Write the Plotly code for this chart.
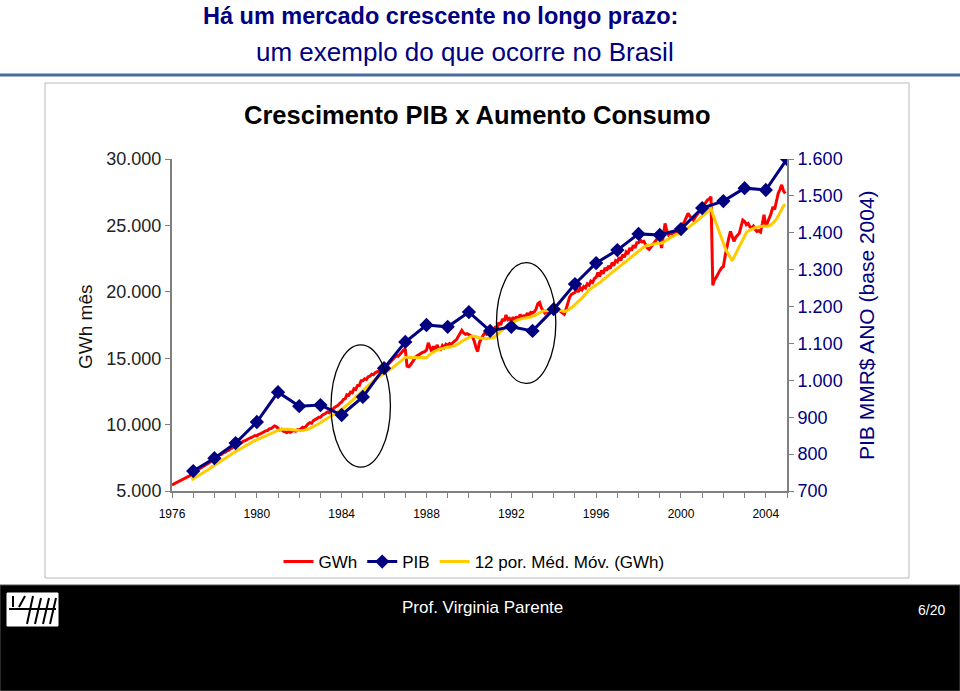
import plotly.graph_objects as go
import pandas as pd

# ---------------- data ----------------
start_year = 1976
end_year = 2005
tick_years = [1976, 1980, 1984, 1988, 1992, 1996, 2000, 2004]

# Monthly electricity consumption (GWh/month), Jan 1976 .. Dec 2004
gwh_monthly = [
    5450, 5520, 5560, 5660, 5700, 5790, 5830, 5940, 5980, 6090, 6150, 6300,        # 1976
    6380, 6450, 6560, 6600, 6720, 6760, 6900, 6950, 7060, 7120, 7250, 7400,        # 1977
    7480, 7560, 7600, 7720, 7760, 7870, 7900, 8020, 8060, 8170, 8230, 8380,        # 1978
    8420, 8480, 8580, 8600, 8720, 8760, 8820, 8920, 8950, 9030, 9100, 9180,        # 1979
    9150, 9270, 9300, 9380, 9450, 9530, 9550, 9680, 9700, 9820, 9900, 9850,        # 1980
    9700, 9600, 9650, 9500, 9450, 9400, 9480, 9420, 9500, 9560, 9500, 9620,        # 1981
    9600, 9720, 9800, 9750, 9950, 10050, 10150, 10100, 10300, 10350, 10450, 10550, # 1982
    10550, 10700, 10750, 10850, 10950, 10900, 11100, 11150, 11300, 11350, 11450, 11600,  # 1983
    11700, 11900, 11950, 12250, 12200, 12450, 12400, 12700, 12650, 12950, 12950, 13300,  # 1984
    13300, 13450, 13400, 13600, 13650, 13800, 13750, 13900, 13950, 14050, 14100, 14250,  # 1985
    14250, 14350, 14500, 14650, 14800, 14950, 15050, 15200, 15150, 15350, 15450, 15600,  # 1986
    15700, 14400, 14350, 14500, 14700, 14900, 15100, 15200, 15300, 15400, 15450, 15500,  # 1987
    15600, 16150, 15800, 15500, 15900, 15600, 16000, 15700, 15650, 15950, 15800, 16050,  # 1988
    15950, 16100, 16050, 16200, 16300, 16400, 16600, 16800, 17100, 16900, 16800, 16850,  # 1989
    16800, 16700, 16600, 16300, 15800, 15500, 16200, 16500, 16700, 16900, 16800, 16950,  # 1990
    16900, 17200, 16950, 17400, 17250, 17700, 17500, 17950, 17800, 18250, 17900, 18000,  # 1991
    17800, 18100, 17750, 18150, 17900, 18300, 17950, 18250, 18050, 18400, 18150, 18450,  # 1992
    18400, 18500, 18700, 19100, 19200, 18800, 18600, 18400, 18500, 18450, 18550, 18600,  # 1993
    18600, 18700, 18550, 18650, 18500, 18400, 18300, 18700, 19200, 19600, 19800, 19900,  # 1994
    19950, 20200, 20000, 20300, 20150, 20400, 20300, 20600, 20500, 20800, 20700, 21000,  # 1995
    21100, 21450, 21150, 21600, 21350, 21800, 21600, 21950, 21750, 22200, 21950, 22350,  # 1996
    22250, 22600, 22350, 22800, 22600, 23000, 22850, 23300, 23100, 23500, 23300, 23700,  # 1997
    23700, 23900, 23750, 23800, 23550, 23300, 23200, 23400, 23600, 23800, 23900, 24050,  # 1998
    24100, 23300, 24400, 25150, 24600, 24300, 24450, 24350, 24500, 24400, 24550, 24600,  # 1999
    24800, 25000, 25300, 25600, 25900, 25700, 25500, 25400, 25600, 25800, 26000, 26200,  # 2000
    26300, 26500, 26700, 26900, 27000, 27150, 20500, 20900, 21100, 21400, 21600, 21800,  # 2001
    21900, 22700, 23500, 24000, 24550, 24100, 23800, 24100, 24300, 24400, 24900, 25400,  # 2002
    25300, 25050, 25150, 24900, 24800, 24950, 24700, 24550, 24600, 24500, 25100, 25800,  # 2003
    24900, 25200, 25600, 25900, 26400, 26200, 26800, 27400, 27700, 28050, 27600, 27400,  # 2004
]

# Annual GDP (PIB, MMR$ base 2004), 1976 .. 2004
pib_years = list(range(1976, 2005))
pib_values = [754, 789, 830, 887, 968, 930, 933, 906, 955, 1033,
              1104, 1150, 1145, 1185, 1134, 1145, 1134, 1193, 1261, 1318,
              1353, 1397, 1394, 1410, 1467, 1486, 1521, 1516, 1600]

ma_window = 12

# ---------------- derived ----------------
month_x = [start_year + i / 12 for i in range(len(gwh_monthly))]
ma = pd.Series(gwh_monthly).rolling(ma_window).mean()
pib_x = [y + 1 for y in pib_years]   # plotted at the end of each year

# ---------------- geometry helpers (page pixels -> paper) ----------------
W, H = 960, 691
L, R, T, B = 172, 173, 159, 200
PW, PH = W - L - R, H - T - B


def px(x):
    return (x - L) / PW


def py(y):
    return (H - B - y) / PH


NAVY = "#000080"
RED = "#ff0000"
YEL = "#ffcc00"
AX = "#808080"
FONT = "Liberation Sans, Arial, sans-serif"

fig = go.Figure()
fig.add_trace(go.Scatter(x=month_x, y=gwh_monthly, mode="lines", name="GWh",
                         line=dict(color=RED, width=3), legendrank=1))
fig.add_trace(go.Scatter(x=month_x[ma_window - 1:], y=ma[ma_window - 1:].tolist(), mode="lines",
                         name="12 por. Méd. Móv. (GWh)",
                         line=dict(color=YEL, width=3), legendrank=3))
fig.add_trace(go.Scatter(x=pib_x, y=pib_values, mode="lines+markers", name="PIB",
                         yaxis="y2", line=dict(color=NAVY, width=3),
                         marker=dict(symbol="diamond", size=11, color=NAVY),
                         legendrank=2))

shapes = [
    # rule under the slide title
    dict(type="line", xref="paper", yref="paper", x0=px(0), x1=px(960), y0=py(75), y1=py(75),
         line=dict(color="#4a6a9c", width=3)),
    # chart frame
    dict(type="rect", xref="paper", yref="paper", x0=px(45), x1=px(909), y0=py(83), y1=py(578),
         line=dict(color="#b8b8b8", width=1)),
    # footer band
    dict(type="rect", xref="paper", yref="paper", x0=px(0), x1=px(960), y0=py(585), y1=py(691),
         fillcolor="black", line=dict(color="#555555", width=1)),
    # logo
    dict(type="rect", xref="paper", yref="paper", x0=px(7), x1=px(58), y0=py(593), y1=py(626),
         fillcolor="white", line=dict(color="white", width=1)),
    dict(type="line", xref="paper", yref="paper", x0=px(9), x1=px(56), y0=py(609), y1=py(609),
         line=dict(color="black", width=2)),
    dict(type="line", xref="paper", yref="paper", x0=px(13), x1=px(13), y0=py(596), y1=py(607),
         line=dict(color="black", width=2)),
    dict(type="line", xref="paper", yref="paper", x0=px(19), x1=px(25), y0=py(607), y1=py(596),
         line=dict(color="black", width=2)),
    dict(type="line", xref="paper", yref="paper", x0=px(27), x1=px(33), y0=py(624), y1=py(596),
         line=dict(color="black", width=2)),
    dict(type="line", xref="paper", yref="paper", x0=px(35), x1=px(41), y0=py(624), y1=py(598),
         line=dict(color="black", width=2)),
    dict(type="line", xref="paper", yref="paper", x0=px(43), x1=px(49), y0=py(624), y1=py(598),
         line=dict(color="black", width=2)),
    dict(type="line", xref="paper", yref="paper", x0=px(50), x1=px(56), y0=py(624), y1=py(598),
         line=dict(color="black", width=2)),
    # highlight ellipses
    dict(type="circle", xref="x", yref="y", x0=1983.5, x1=1986.3, y0=6800, y1=16000,
         line=dict(color="black", width=1.3)),
    dict(type="circle", xref="x", yref="y", x0=1991.3, x1=1994.1, y0=13100, y1=22200,
         line=dict(color="black", width=1.3)),
]

annotations = [
    dict(text="<b>Há um mercado crescente no longo prazo:</b>", x=px(440), y=py(16),
         font=dict(family=FONT, size=23.5, color=NAVY)),
    dict(text="um exemplo do que ocorre no Brasil", x=px(465), y=py(52),
         font=dict(family=FONT, size=26, color=NAVY)),
    dict(text="<b>Crescimento PIB x Aumento Consumo</b>", x=px(477), y=py(115),
         font=dict(family=FONT, size=25.5, color="black")),
    dict(text="GWh mês", x=px(85), y=py(327), textangle=-90,
         font=dict(family=FONT, size=19, color="#111111")),
    dict(text="PIB MMR$ ANO (base 2004)", x=px(866), y=py(325), textangle=-90,
         font=dict(family=FONT, size=21, color=NAVY)),
    dict(text="Prof. Virginia Parente", x=px(482), y=py(607),
         font=dict(family=FONT, size=17, color="white")),
    dict(text="6/20", x=px(931), y=py(610),
         font=dict(family=FONT, size=14, color="white")),
]
for a in annotations:
    a.update(xref="paper", yref="paper", showarrow=False, xanchor="center", yanchor="middle")

fig.update_layout(
    width=W, height=H,
    margin=dict(l=L, r=R, t=T, b=B, pad=0),
    paper_bgcolor="white", plot_bgcolor="white",
    separators=",.",
    showlegend=True,
    legend=dict(orientation="h", x=px(474), y=py(562), xanchor="center", yanchor="middle",
                font=dict(family=FONT, size=17, color="black"), bgcolor="rgba(0,0,0,0)",
                itemwidth=30, tracegroupgap=0),
    xaxis=dict(range=[start_year, end_year], tickvals=tick_years,
               ticktext=[str(y) for y in tick_years],
               ticks="outside", ticklen=5, tickwidth=1, tickcolor=AX,
               minor=dict(dtick=1, tick0=start_year, ticks="outside", ticklen=5, tickcolor=AX),
               showline=True, linecolor=AX, linewidth=2, mirror=False,
               showgrid=False, zeroline=False,
               tickfont=dict(family=FONT, size=12, color="black"), ticklabelstandoff=6),
    yaxis=dict(range=[5000, 30000], dtick=5000, tickformat=",d",
               ticks="outside", ticklen=5, tickcolor=AX,
               showline=True, linecolor=AX, linewidth=2,
               showgrid=False, zeroline=False,
               tickfont=dict(family=FONT, size=18, color="#222222")),
    yaxis2=dict(range=[700, 1600], dtick=100, tickformat=",d", overlaying="y", side="right",
                ticks="outside", ticklen=5, tickcolor=AX,
                showline=True, linecolor=AX, linewidth=2,
                showgrid=False, zeroline=False,
                tickfont=dict(family=FONT, size=18, color=NAVY), ticklabelstandoff=0),
    shapes=shapes,
    annotations=annotations,
)

fig.write_html("out.html", config={"displayModeBar": False},
               post_script="document.body.style.margin='0px';document.body.style.overflow='hidden';")
